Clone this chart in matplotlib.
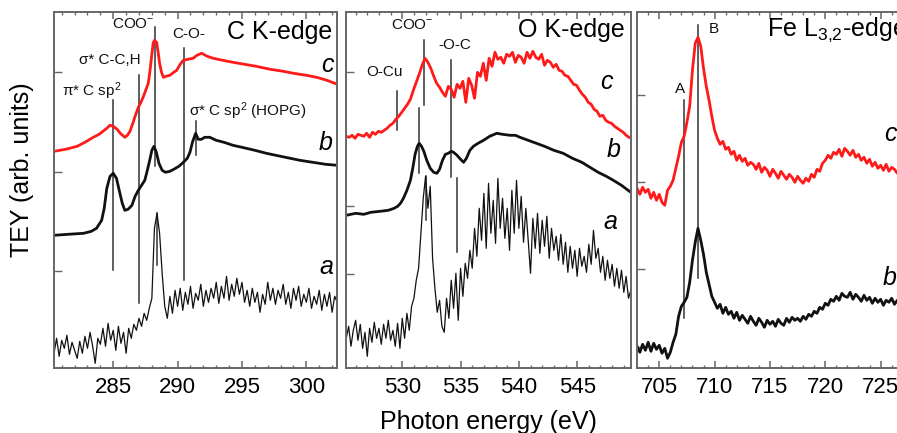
import numpy as np
import matplotlib
matplotlib.use('Agg')
import matplotlib.pyplot as plt
from matplotlib.ticker import MultipleLocator

plt.rcParams['font.family'] = ['Liberation Sans', 'DejaVu Sans']
plt.rcParams['mathtext.fontset'] = 'custom'
plt.rcParams['mathtext.rm'] = 'Liberation Sans'
plt.rcParams['mathtext.it'] = 'Liberation Sans:italic'

# ---------------- C K-edge ----------------
ck_c_e = [280.4, 281.3, 282.2, 282.8, 283.45, 283.9, 284.2, 284.5, 284.74, 285.0, 285.3, 285.55, 285.9,
          286.1, 286.3, 286.55, 286.75, 286.95, 287.15, 287.35, 287.55, 287.72, 287.85, 287.98, 288.1,
          288.2, 288.37, 288.5, 288.6, 288.75, 288.9, 289.1, 289.4, 289.7, 289.93, 290.2, 290.44, 290.8,
          291.2, 291.5, 291.87, 292.3, 292.77, 293.5, 294.3, 295.2, 296.1, 297.2, 298.2, 299.0, 300.0,
          300.8, 301.6, 302.4]
ck_c_v = [217, 219, 222, 226, 231, 234, 237, 240, 243, 242, 239, 235, 231, 233, 237, 246, 254, 261, 266,
          272, 279, 285, 297, 312, 325, 328, 326, 315, 305, 296, 291, 292, 293, 296, 298, 304, 308, 309,
          310, 313, 315, 312, 310, 308, 306, 304, 302, 299, 297, 295, 293, 291, 288, 284]

ck_b_e = [280.4, 281.5, 282.7, 283.3, 283.7, 284.1, 284.3, 284.5, 284.75, 285.0, 285.25, 285.5, 285.7,
          285.9, 286.15, 286.45, 286.7, 286.95, 287.2, 287.45, 287.65, 287.85, 288.0, 288.16, 288.35,
          288.55, 288.8, 289.05, 289.4, 289.7, 290.1, 290.45, 290.75, 290.96, 291.15, 291.4, 291.6,
          291.85, 292.1, 292.5, 293.0, 293.6, 294.3, 295.0, 296.0, 296.9, 298.0, 299.5, 300.5, 301.5, 302.4]
ck_b_v = [133, 134, 135, 137, 140, 148, 160, 180, 192, 195, 190, 176, 165, 158, 159, 163, 172, 178, 183,
          188, 198, 209, 218, 222, 216, 205, 198, 196, 197, 199, 202, 206, 210, 216, 226, 235, 229, 229,
          231, 231, 228, 226, 223, 221, 218, 215, 212, 208, 206, 204, 203]

ck_a_start, ck_a_step = 280.4, 0.2
ck_a_v = [15, 30, 12, 28, 20, 33, 14, 26, 18, 10, 27, 15, 32, 20, 36, 22, 5, 30, 24, 40, 22, 45, 28, 38,
          18, 42, 25, 36, 15, 40, 30, 44, 38, 50, 42, 55, 48, 60, 70, 140, 155, 135, 95, 62, 50, 72, 55,
          78, 62, 80, 58, 76, 64, 82, 60, 75, 68, 84, 62, 78, 66, 80, 70, 86, 65, 82, 70, 92, 68, 84, 72,
          90, 74, 86, 66, 78, 62, 80, 66, 76, 56, 74, 64, 86, 68, 80, 64, 78, 70, 84, 64, 76, 60, 80, 68,
          82, 62, 74, 66, 80, 60, 72, 64, 78, 58, 74, 62, 76, 56, 72, 66]

# ---------------- O K-edge ----------------
ok_c_start, ok_c_step = 525.2, 0.25
ok_c_v = [232, 231, 233, 230, 234, 233, 232, 235, 231, 236, 234, 237, 236, 238, 240, 243, 245, 249, 252,
          256,
          260, 264, 269, 278, 286, 294, 303, 310, 306, 300, 292, 285, 281, 276, 272,
          282, 279, 271, 284, 280, 287, 266, 290, 283, 270, 296, 292, 305, 288, 310, 302, 316,
          309, 311, 305, 314, 312, 316, 306, 313, 311, 305, 316, 310, 317, 311, 309, 314, 303, 308, 306,
          301, 304, 298,
          297, 293, 292, 288, 284, 283, 278, 274, 271, 266, 264, 259, 257, 252, 253, 248, 246, 245, 242,
          240, 238, 236, 233, 231]

ok_b_e = [525.2, 526.0, 526.7, 527.3, 528.1, 528.8, 529.3, 529.6, 529.85, 530.1, 530.4, 530.7, 530.9,
          531.1, 531.3, 531.45, 531.65, 531.85, 532.1, 532.4, 532.7, 532.97, 533.2, 533.45, 533.7, 533.95,
          534.2, 534.4, 534.7, 535.0, 535.26, 535.5, 535.8, 536.1, 536.5, 536.97, 537.5, 538.1, 538.6,
          539.25, 539.7, 540.1, 540.8, 541.5, 542.2, 543.0, 543.8, 544.6, 545.4, 546.1, 546.8, 547.5,
          548.1, 548.8, 549.6]
ok_b_v = [153, 155, 154, 156, 157, 158, 160, 162, 165, 170, 178, 188, 200, 214, 222, 225, 222, 217, 208,
          200, 196, 195, 199, 208, 214, 215, 217, 216, 213, 209, 206, 210, 218, 222, 225, 228, 232, 235,
          234, 233, 233, 231, 228, 225, 222, 218, 215, 210, 206, 201, 196, 192, 188, 183, 176]

ok_a_start, ok_a_step = 525.2, 0.2
ok_a_v = [30, 42, 22, 38, 48, 28, 44, 20, 36, 12, 40, 26, 46, 30, 40, 24, 44, 30, 48, 28, 38, 22, 45,
          20, 50, 30, 55, 38, 62, 70, 88, 100, 135, 170, 192, 160, 182, 110, 80, 56, 68, 42, 36, 70, 50,
          88, 60, 95, 48, 100, 72, 105, 90, 118, 100, 140, 112, 160, 128, 175, 120, 185, 135, 168, 125,
          190, 140, 170, 130, 160, 118, 178, 135, 188, 140, 172, 126, 160, 128, 95, 150, 120, 155, 115,
          148, 122, 152, 110, 140, 118, 132, 108, 134, 104, 126, 96, 122, 100, 118, 92, 120, 102, 112, 96,
          124, 104, 138, 110, 120, 96, 112, 88, 108, 90, 104, 82, 100, 80, 98, 76, 92, 70, 78]

# ---------------- Fe L3,2-edge ----------------
fe_start, fe_step = 703.0, 0.25
fe_c_v = [180, 174, 181, 176, 179, 170, 176, 168, 174, 166, 163, 178, 182, 188, 200, 212, 226, 232, 246,
          262, 298, 325, 331, 322, 300, 282, 268, 252, 238, 230,
          224, 227, 219, 221, 214, 217, 208, 213, 207, 210, 203, 206, 204, 199, 205, 196, 201, 198, 192,
          199, 195, 190, 197, 193, 189, 194, 191, 186, 192, 188, 185, 190, 187, 194, 191, 199, 197, 205,
          208, 213, 210, 216, 214, 219, 212, 220, 217, 213, 218, 211, 214, 208, 211, 205, 209, 202, 206,
          200, 203, 198, 204, 197, 201, 199, 195, 200, 196]
fe_b_v = [22, 16, 24, 18, 26, 17, 25, 19, 23, 15, 20, 10, 16, 26, 34, 52, 62, 66, 71, 86, 108, 126, 140,
          128, 114, 96, 84, 72,
          66, 60, 64, 55, 61, 54, 57, 50, 56, 48, 53, 49, 45, 52, 47, 43, 50, 46, 41, 48, 44, 47, 42, 49,
          45, 43, 50, 46, 51, 48, 50, 47, 52, 49, 54, 52, 57, 55, 61, 59, 65, 63, 69, 67, 72, 68, 75, 72,
          71, 76, 69, 74, 71, 67, 73, 68, 71, 65, 70, 66, 69, 63, 68, 66, 70, 64, 68, 65, 67]

def grid(start, step, vals):
    return np.round(start + step * np.arange(len(vals)), 3)

RED = '#ff1a1a'
BLK = '#111111'
LINE = '#333333'
SPINE = '#666666'

fig = plt.figure(figsize=(8.97, 4.33), dpi=100)
H = 356
pos = [[0.0605, 0.1494, 0.3152, 0.8222],
       [0.3854, 0.1494, 0.3181, 0.8222],
       [0.7105, 0.1494, 0.2984, 0.8222]]
axes = [fig.add_axes(p) for p in pos]

def style(ax, xlim, majors, yt):
    ax.set_xlim(*xlim)
    ax.set_ylim(0, H)
    ax.xaxis.set_minor_locator(MultipleLocator(1))
    ax.set_xticks(majors)
    ax.tick_params(axis='x', which='major', direction='in', length=5, width=1.1, color=SPINE,
                   top=True, labelsize=16, pad=6)
    ax.tick_params(axis='x', which='minor', direction='in', length=2.5, width=1.0, color=SPINE, top=True)
    ax.set_yticks(yt)
    ax.tick_params(axis='y', which='major', direction='in', length=6, width=1.0, color=SPINE,
                   labelleft=False, left=True, right=False)
    for s in ax.spines.values():
        s.set_color(SPINE)
        s.set_linewidth(1.4)

ax1, ax2, ax3 = axes
style(ax1, (280.42, 302.38), [285, 290, 295, 300], [296, 196, 97])
style(ax2, (525.15, 549.62), [530, 535, 540, 545], [296, 162, 94])
style(ax3, (703.02, 727.2), [705, 710, 715, 720, 725], [273, 186, 99, 21])

# curves
ax1.plot(grid(ck_a_start, ck_a_step, ck_a_v), ck_a_v, color=BLK, lw=0.9)
ax1.plot(ck_b_e, ck_b_v, color=BLK, lw=2.0)
ax1.plot(ck_c_e, ck_c_v, color=RED, lw=2.0)

ax2.plot(grid(ok_a_start, ok_a_step, ok_a_v), ok_a_v, color=BLK, lw=0.9)
ax2.plot(ok_b_e, ok_b_v, color=BLK, lw=2.0)
ax2.plot(grid(ok_c_start, ok_c_step, ok_c_v), ok_c_v, color=RED, lw=2.0)

ax3.plot(grid(fe_start, fe_step, fe_b_v), fe_b_v, color=BLK, lw=2.0)
ax3.plot(grid(fe_start, fe_step, fe_c_v), fe_c_v, color=RED, lw=2.0)

# vertical marker lines
vl = dict(color=LINE, lw=1.1, zorder=1)
for ax, segs in [(ax1, [(285.0, 98, 268), (286.97, 65, 293), (288.24, 202, 341), (288.37, 103, 155),
                        (290.52, 88, 320), (291.43, 213, 247)]),
                 (ax2, [(529.53, 238, 277), (531.87, 263, 328), (531.47, 195, 260), (532.04, 148, 192),
                        (534.16, 191, 308), (534.67, 116, 190)]),
                 (ax3, [(707.24, 50, 268), (708.54, 90, 343)])]:
    for e, y0, y1 in segs:
        ax.plot([e, e], [y0, y1], **vl)

ann = dict(fontsize=11, ha='center', va='center', color='#111111')
ax1.text(286.55, 344, r'COO$^{\mathregular{-}}$', **ann)
ax1.text(290.84, 334, 'C-O-', **ann)
ax1.text(284.74, 308, r'σ* C-C,H', **ann)
ax1.text(283.35, 277, r'π* C sp$^{\mathregular{2}}$', **ann)
ax1.text(295.47, 257, r'σ* C sp$^{\mathregular{2}}$ (HOPG)', **ann)
ax1.text(302.0, 336, 'C K-edge', fontsize=18, ha='right', va='center')

ax2.text(530.84, 343, r'COO$^{\mathregular{-}}$', **ann)
ax2.text(534.53, 323, '-O-C', **ann)
ax2.text(528.44, 296, 'O-Cu', **ann)
ax2.text(549.1, 338, 'O K-edge', fontsize=18, ha='right', va='center')

ax3.text(709.95, 339, 'B', **ann)
ax3.text(706.88, 279, 'A', **ann)
ax3.text(714.75, 338, r'Fe L$_{\mathregular{3{,}2}}$-edge', fontsize=18, ha='left', va='center')

lab = dict(fontsize=18, style='italic', ha='center', va='center')
ax1.text(301.6, 303, 'c', **lab)
ax1.text(301.53, 225, 'b', **lab)
ax1.text(301.53, 101, 'a', **lab)
ax2.text(547.48, 286, 'c', **lab)
ax2.text(548.08, 218, 'b', **lab)
ax2.text(547.82, 146, 'a', **lab)
ax3.text(725.85, 234, 'c', **lab)
ax3.text(725.85, 90, 'b', **lab)

fig.text(0.0245, 0.607, 'TEY (arb. units)', rotation=90, fontsize=18, ha='center', va='center')
fig.text(0.545, 0.009, 'Photon energy (eV)', fontsize=18, ha='center', va='baseline')

fig.savefig('out.png', dpi=100)
